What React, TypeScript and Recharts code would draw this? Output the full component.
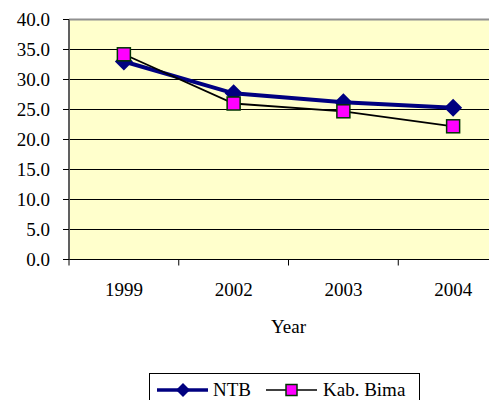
import { LineChart, Line, XAxis, YAxis, CartesianGrid, Legend, ReferenceLine } from 'recharts'

const years = ['1999', '2002', '2003', '2004']
const ntb = [33.0, 27.7, 26.2, 25.3]
const kabBima = [34.2, 26.0, 24.7, 22.2]
const yTicks = [0, 5, 10, 15, 20, 25, 30, 35, 40]

const data = years.map((year, i) => ({ year, ntb: ntb[i], bima: kabBima[i] }))

const FONT = '"Times New Roman", "Liberation Serif", "DejaVu Serif", serif'

function Diamond(props: any) {
  const { cx, cy } = props
  if (cx == null || cy == null) return null
  const r = 9
  return <polygon points={`${cx},${cy - r} ${cx + r},${cy} ${cx},${cy + r} ${cx - r},${cy}`} fill="#000080" />
}

function Square(props: any) {
  const { cx, cy } = props
  if (cx == null || cy == null) return null
  const s = 6.5
  return <rect x={cx - s} y={cy - s} width={s * 2} height={s * 2} fill="#ff00ff" stroke="#003300" strokeWidth={1.5} />
}

// category label at band centre, tick mark at band's left edge (Excel style)
function YearTick(props: any) {
  const { x, y, payload } = props
  const half = payload?.offset ?? 0
  return (
    <g>
      <line x1={x - half} y1={y} x2={x - half} y2={y + 6} stroke="#000" />
      <text x={x} y={y + 36} textAnchor="middle" fontSize={19} fill="#000" style={{ fontFamily: FONT }}>
        {payload.value}
      </text>
    </g>
  )
}

function LegendBox() {
  return (
    <div style={{ display: 'flex', justifyContent: 'flex-start', paddingLeft: 149 }}>
      <div
        style={{
          border: '1px solid #000',
          borderBottom: 'none',
          display: 'flex',
          alignItems: 'center',
          height: 35,
          padding: '0 14px 3px 7px',
          fontFamily: FONT,
          fontSize: 19,
          color: '#000',
          boxSizing: 'border-box',
        }}
      >
        <svg width={51} height={18}>
          <line x1={0} y1={9} x2={51} y2={9} stroke="#000080" strokeWidth={3.5} />
          <polygon points="26,2 33,9 26,16 19,9" fill="#000080" />
        </svg>
        <span style={{ marginLeft: 5, marginRight: 15 }}>NTB</span>
        <svg width={51} height={18}>
          <line x1={0} y1={9} x2={51} y2={9} stroke="#000" strokeWidth={1.5} />
          <rect x={20} y={3.5} width={11} height={11} fill="#ff00ff" stroke="#003300" strokeWidth={1.5} />
        </svg>
        <span style={{ marginLeft: 6 }}>Kab. Bima</span>
      </div>
    </div>
  )
}

export default function App() {
  return (
    <div style={{ width: 497, height: 408, overflow: 'hidden', margin: -8, background: '#fff', fontFamily: FONT }}>
      <LineChart
        width={508}
        height={408}
        data={data}
        margin={{ top: 19.5, right: 0, bottom: 0, left: 0 }}
        style={{ fontFamily: FONT }}
      >
        <CartesianGrid
          vertical={false}
          fill="#ffffcc"
          fillOpacity={1}
          stroke="#000"
          strokeOpacity={1}
          horizontalValues={[5, 10, 15, 20, 25, 30, 35]}
        />
        <ReferenceLine y={40} stroke="#909090" strokeWidth={2} />
        <XAxis
          dataKey="year"
          scale="band"
          height={113.5}
          tickLine={false}
          tickSize={0}
          tickMargin={0}
          axisLine={{ stroke: '#000' }}
          tick={<YearTick />}
          label={{ value: 'Year', position: 'insideTop', offset: 60, fontSize: 19, fill: '#000', style: { fontFamily: FONT } }}
        />
        <YAxis
          width={69}
          domain={[0, 40]}
          ticks={yTicks}
          interval={0}
          tickFormatter={(v: number) => v.toFixed(1)}
          tick={{ fontSize: 19, fill: '#000', style: { fontFamily: FONT } }}
          tickLine={{ stroke: '#000' }}
          tickSize={6}
          tickMargin={13}
          axisLine={{ stroke: '#606060', strokeWidth: 2 }}
        />
        <Legend verticalAlign="bottom" height={35} content={() => <LegendBox />} />
        <Line
          dataKey="ntb"
          name="NTB"
          stroke="#000080"
          strokeWidth={4}
          dot={<Diamond />}
          activeDot={false}
          isAnimationActive={false}
        />
        <Line
          dataKey="bima"
          name="Kab. Bima"
          stroke="#000"
          strokeWidth={1.8}
          dot={<Square />}
          activeDot={false}
          isAnimationActive={false}
        />
      </LineChart>
    </div>
  )
}
